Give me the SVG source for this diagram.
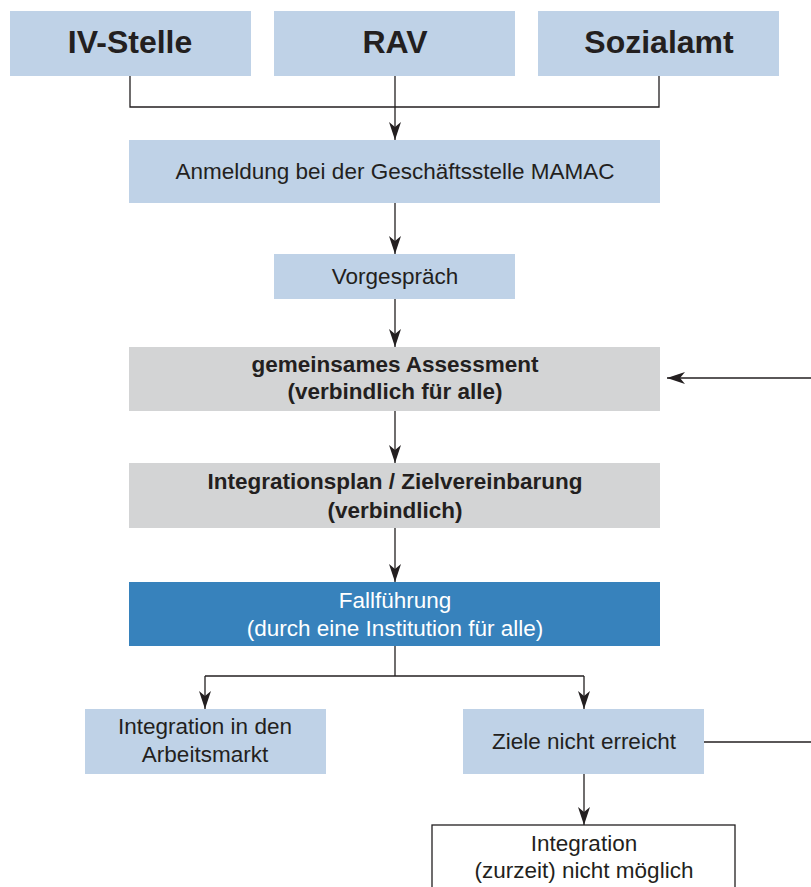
<svg xmlns="http://www.w3.org/2000/svg" width="811" height="887" viewBox="0 0 811 887">
<style>
.lb{fill:#bfd2e7}
.gr{fill:#d3d4d5}
.bl{fill:#3782bc}
.t{font-family:"Liberation Sans",Arial,sans-serif;fill:#231f20;text-anchor:middle}
.big{font-size:32px;font-weight:bold}
.m{font-size:22.5px}
.b{font-size:22.5px;font-weight:bold}
.w{fill:#ffffff}
.ln{stroke:#231f20;stroke-width:1.3;fill:none}
</style>
<defs>
<marker id="ah" viewBox="0 0 18 12" refX="18" refY="6" markerWidth="18" markerHeight="12" markerUnits="userSpaceOnUse" orient="auto">
<path d="M0,0 L18,6 L0,12 L5,6 Z" fill="#231f20"/>
</marker>
</defs>
<rect width="811" height="887" fill="#ffffff"/>
<g id="connectors">
<path class="ln" d="M130,76 V107 H659 V76"/>
<path class="ln" d="M395,76 V140" marker-end="url(#ah)"/>
<path class="ln" d="M395,203 V254" marker-end="url(#ah)"/>
<path class="ln" d="M395,299 V347" marker-end="url(#ah)"/>
<path class="ln" d="M811,378 H667" marker-end="url(#ah)"/>
<path class="ln" d="M395,411 V463" marker-end="url(#ah)"/>
<path class="ln" d="M395,528 V582" marker-end="url(#ah)"/>
<path class="ln" d="M395,646 V676"/>
<path class="ln" d="M205,676 H584"/>
<path class="ln" d="M205,676 V709" marker-end="url(#ah)"/>
<path class="ln" d="M584,676 V709" marker-end="url(#ah)"/>
<path class="ln" d="M704,742 H811"/>
<path class="ln" d="M584,774 V825" marker-end="url(#ah)"/>
</g>
<g id="iv-stelle"><rect class="lb" x="10" y="11" width="241" height="65"/><text class="t big" x="130" y="53">IV-Stelle</text></g>
<g id="rav"><rect class="lb" x="274" y="11" width="241" height="65"/><text class="t big" x="395" y="53">RAV</text></g>
<g id="sozialamt"><rect class="lb" x="538" y="11" width="241" height="65"/><text class="t big" x="659" y="53">Sozialamt</text></g>
<g id="anmeldung"><rect class="lb" x="129" y="140" width="531" height="63"/><text class="t m" x="395" y="179">Anmeldung bei der Geschäftsstelle MAMAC</text></g>
<g id="vorgespraech"><rect class="lb" x="274" y="254" width="241" height="45"/><text class="t m" x="395" y="284">Vorgespräch</text></g>
<g id="assessment"><rect class="gr" x="129" y="347" width="531" height="64"/><text class="t b" x="395" y="372">gemeinsames Assessment</text><text class="t b" x="395" y="399">(verbindlich für alle)</text></g>
<g id="integrationsplan"><rect class="gr" x="129" y="463" width="531" height="65"/><text class="t b" x="395" y="489">Integrationsplan / Zielvereinbarung</text><text class="t b" x="395" y="518">(verbindlich)</text></g>
<g id="fallfuehrung"><rect class="bl" x="129" y="582" width="531" height="64"/><text class="t m w" x="395" y="608">Fallführung</text><text class="t m w" x="395" y="636">(durch eine Institution für alle)</text></g>
<g id="arbeitsmarkt"><rect class="lb" x="85" y="709" width="241" height="65"/><text class="t m" x="205" y="734">Integration in den</text><text class="t m" x="205" y="762">Arbeitsmarkt</text></g>
<g id="ziele"><rect class="lb" x="463" y="709" width="241" height="65"/><text class="t m" x="584" y="749">Ziele nicht erreicht</text></g>
<g id="nicht-moeglich"><rect x="432" y="825" width="303" height="70" fill="#ffffff" stroke="#231f20" stroke-width="1.3"/><text class="t m" x="584" y="851">Integration</text><text class="t m" x="584" y="878">(zurzeit) nicht möglich</text></g>
</svg>
